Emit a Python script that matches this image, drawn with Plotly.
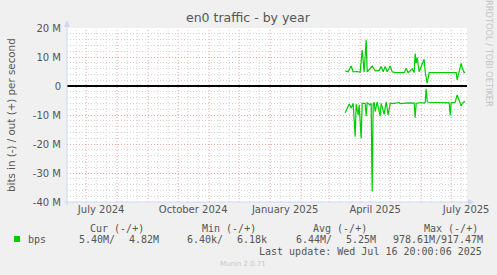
import plotly.graph_objects as go
from datetime import date, timedelta

# ---------------- data (values in millions of bits per second) ----------------
out_dates = ["2025-03-17", "2025-03-20", "2025-03-23", "2025-03-25", "2025-03-28", "2025-04-01",
             "2025-04-03", "2025-04-05", "2025-04-07", "2025-04-08", "2025-04-13", "2025-04-16",
             "2025-04-20", "2025-04-22", "2025-04-24", "2025-04-26", "2025-04-28", "2025-05-01",
             "2025-05-03", "2025-05-06", "2025-05-15", "2025-05-17", "2025-05-19", "2025-05-23",
             "2025-05-25", "2025-05-26", "2025-05-27", "2025-05-28", "2025-05-30", "2025-06-02",
             "2025-06-04", "2025-06-05", "2025-06-07", "2025-06-09", "2025-06-20", "2025-06-30",
             "2025-07-06", "2025-07-07", "2025-07-11", "2025-07-12", "2025-07-14", "2025-07-15"]
out_values = [5.2, 4.9, 6.9, 4.9, 5.0, 4.8,
              12.4, 4.8, 15.9, 4.9, 6.9, 5.2,
              5.4, 6.7, 4.9, 6.7, 4.9, 6.9,
              4.9, 4.6, 4.6, 6.1, 4.6, 5.9,
              4.7, 11.2, 7.9, 9.8, 4.9, 7.9,
              9.2, 4.9, 1.0, 4.6, 4.6, 4.6,
              4.6, 2.1, 7.8, 6.3, 4.6, 4.82]

in_dates = ["2025-03-17", "2025-03-21", "2025-03-23", "2025-03-25", "2025-03-27", "2025-03-28",
            "2025-03-30", "2025-03-31", "2025-04-02", "2025-04-03", "2025-04-06", "2025-04-07",
            "2025-04-08", "2025-04-11", "2025-04-12", "2025-04-13", "2025-04-14", "2025-04-15",
            "2025-04-16", "2025-04-18", "2025-04-21", "2025-04-22", "2025-04-25", "2025-04-27",
            "2025-04-29", "2025-05-01", "2025-05-05", "2025-05-10", "2025-05-11", "2025-05-20",
            "2025-05-25", "2025-05-26", "2025-05-27", "2025-05-31", "2025-06-04", "2025-06-05",
            "2025-06-06", "2025-06-07", "2025-06-08", "2025-06-20", "2025-06-29", "2025-06-30",
            "2025-07-01", "2025-07-05", "2025-07-07", "2025-07-09", "2025-07-11", "2025-07-13",
            "2025-07-15"]
in_values = [-9.2, -6.2, -7.6, -6.0, -17.5, -6.3,
             -10.0, -6.5, -18.0, -6.0, -6.0, -10.3,
             -5.8, -6.5, -6.0, -36.4, -6.0, -5.8,
             -8.8, -5.6, -10.3, -6.0, -9.8, -5.5,
             -10.0, -6.0, -6.0, -5.7, -6.1, -5.8,
             -5.9, -10.9, -6.0, -5.7, -5.9, -5.7,
             -1.0, -5.2, -5.6, -5.7, -5.8, -10.1,
             -5.8, -5.6, -3.1, -4.9, -6.8, -5.6,
             -5.4]

y_ticks = [-40, -30, -20, -10, 0, 10, 20]
y_tick_labels = ["-40 M", "-30 M", "-20 M", "-10 M", "0", "10 M", "20 M"]
x_tick_dates = ["2024-07-16", "2024-10-16", "2025-01-16", "2025-04-16", "2025-07-16"]
x_tick_labels = ["July 2024", "October 2024", "January 2025", "April 2025", "July 2025"]

legend_headers = ["Cur (-/+)", "Min (-/+)", "Avg (-/+)", "Max (-/+)"]
legend_name = "bps"
legend_values = ["5.40M/", "4.82M", "6.40k/", "6.18k", "6.44M/", "5.25M", "978.61M/", "917.47M"]
last_update = "Last update: Wed Jul 16 20:00:06 2025"

x_start, x_end = "2024-06-11 20:00", "2025-07-16 20:00"

# ---------------- layout helpers ----------------
W, H = 497, 275
L, R, T, B = 67, 467, 28, 202
def pxp(x):
    return (x - L) / (R - L)
def pyp(y):
    return (B - y) / (B - T)

FONT = "DejaVu Sans"
MONO = "DejaVu Sans Mono"
TXT = "#555555"
GREEN = "#00CC00"
MGRID = "#EBA5A5"
GRID = "#D4D4D4"
AXIS = "#CFD6F8"

fig = go.Figure()
fig.add_trace(go.Scatter(x=out_dates, y=out_values, mode="lines",
                         line=dict(color=GREEN, width=1.2), hoverinfo="skip"))
fig.add_trace(go.Scatter(x=in_dates, y=in_values, mode="lines",
                         line=dict(color=GREEN, width=1.2), hoverinfo="skip"))

shapes = []
# vertical grid: month starts (major) and days 11/21 (minor)
d = date(2024, 6, 1)
while d <= date(2025, 7, 31):
    for day in (11, 21):
        dd = date(d.year, d.month, day)
        if date(2024, 6, 12) <= dd <= date(2025, 7, 16):
            shapes.append(dict(type="line", xref="x", yref="paper", x0=str(dd), x1=str(dd),
                               y0=0, y1=1, layer="below",
                               line=dict(color=GRID, width=1, dash="1px,2px")))
    if date(2024, 6, 12) <= d <= date(2025, 7, 16):
        shapes.append(dict(type="line", xref="x", yref="paper", x0=str(d), x1=str(d),
                           y0=0, y1=1, layer="below",
                           line=dict(color=MGRID, width=1, dash="1px,2px")))
    d = date(d.year + (d.month // 12), d.month % 12 + 1, 1)

# axes with arrows
shapes.append(dict(type="line", xref="paper", yref="paper", x0=pxp(67), x1=pxp(67),
                   y0=pyp(205), y1=pyp(24), line=dict(color=AXIS, width=1)))
shapes.append(dict(type="path", xref="paper", yref="paper",
                   path=f"M {pxp(64)},{pyp(27)} L {pxp(70)},{pyp(27)} L {pxp(67)},{pyp(20)} Z",
                   fillcolor=AXIS, line=dict(color=AXIS, width=0)))
shapes.append(dict(type="line", xref="paper", yref="paper", x0=pxp(64), x1=pxp(470),
                   y0=pyp(202), y1=pyp(202), line=dict(color=AXIS, width=1)))
shapes.append(dict(type="path", xref="paper", yref="paper",
                   path=f"M {pxp(468)},{pyp(199)} L {pxp(468)},{pyp(205)} L {pxp(474)},{pyp(202)} Z",
                   fillcolor=AXIS, line=dict(color=AXIS, width=0)))
# legend swatch
shapes.append(dict(type="rect", xref="paper", yref="paper", x0=pxp(14), x1=pxp(20),
                   y0=pyp(242), y1=pyp(236), fillcolor=GREEN, line=dict(width=0)))

ann = []
def text(x, y, s, size=10, family=FONT, color=TXT, xanchor="left", angle=0):
    ann.append(dict(x=pxp(x), y=pyp(y), xref="paper", yref="paper", text=s, showarrow=False,
                    xanchor=xanchor, yanchor="middle", textangle=angle,
                    font=dict(family=family, size=size, color=color), borderpad=0))

text(248, 18, "en0 traffic - by year", size=12.5, xanchor="center")
text(11, 115, "bits in (-) / out (+) per second", size=10.3, xanchor="center", angle=-90)
text(489, 53, "RRDTOOL / TOBI OETIKER", size=8.3, color="#C4C4C4", xanchor="center", angle=90)
hx = [89, 200.5, 311.5, 422.5]
for x, s in zip(hx, legend_headers):
    text(x, 228, s, family=MONO)
text(26.5, 239.5, legend_name, family=MONO)
vx = [78, 128, 186, 236, 295, 345, 391.5, 439.5]
for x, s in zip(vx, legend_values):
    text(x, 239.5, s, family=MONO)
text(482.5, 251, last_update, family=MONO, xanchor="right")
text(243, 264, "Munin 2.0.71", size=7, color="#C8C8C8", xanchor="center")

fig.update_layout(
    width=W, height=H, autosize=False,
    margin=dict(l=L, r=W - R, t=T, b=H - B, pad=0),
    paper_bgcolor="#F0F0F0", plot_bgcolor="#FFFFFF",
    showlegend=False, shapes=shapes, annotations=ann,
    font=dict(family=FONT, size=10, color=TXT),
    xaxis=dict(type="date", range=[x_start, x_end], showgrid=False, zeroline=False,
               showline=False, ticks="", tickvals=x_tick_dates, ticktext=x_tick_labels,
               tickfont=dict(family=FONT, size=10, color=TXT), automargin=False,
               fixedrange=True),
    yaxis=dict(range=[-40, 20], tickvals=y_ticks, ticktext=y_tick_labels, ticks="",
               showgrid=True, gridcolor=MGRID, griddash="1px,2px", gridwidth=1,
               zeroline=True, zerolinecolor="#000000", zerolinewidth=1.5,
               showline=False, tickfont=dict(family=FONT, size=10, color=TXT),
               ticklabelstandoff=5, automargin=False, fixedrange=True,
               minor=dict(dtick=2, showgrid=True, gridcolor=GRID, griddash="1px,2px",
                          gridwidth=1)),
)

fig.write_html("out.html")
